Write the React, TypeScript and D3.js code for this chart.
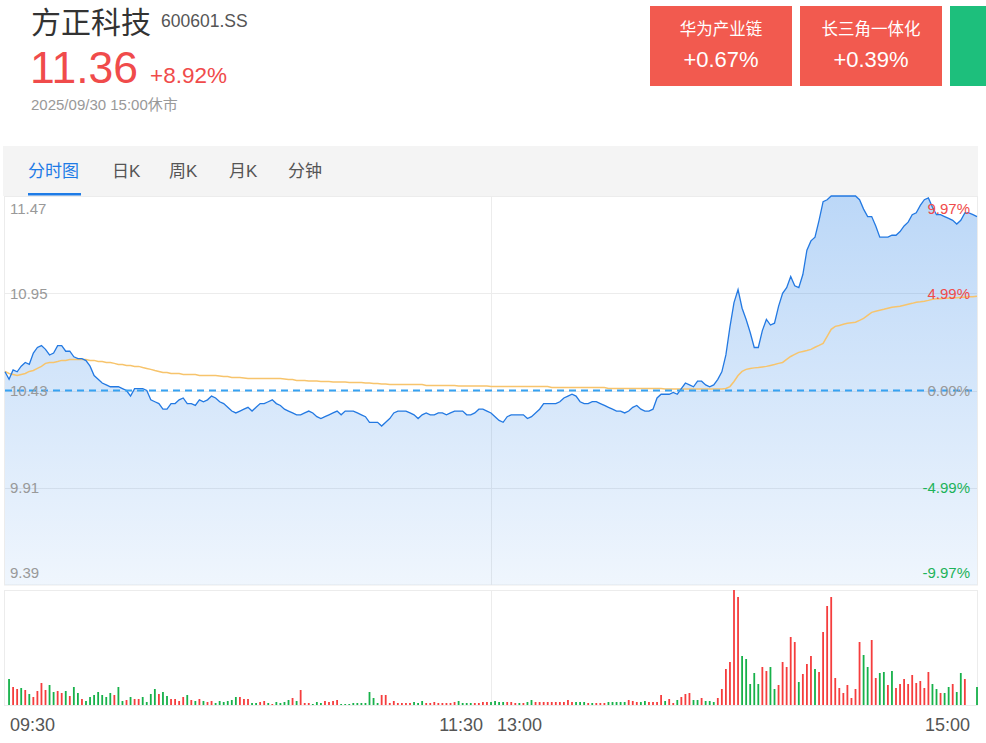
import React from "react";
import * as d3 from "d3";

const TITLE = "方正科技";
const CODE = "600601.SS";
const LAST = "11.36";
const CHANGE = "+8.92%";
const STATUS = "2025/09/30 15:00休市";
const TAG_NAMES = ["华为产业链", "长三角一体化"];
const TAG_VALUES = ["+0.67%", "+0.39%"];
const TABS = ["分时图", "日K", "周K", "月K", "分钟"];
const TAB_X = [28, 112, 169, 229, 288];

const PREV_CLOSE = 10.43;
const PRICE_TICKS = [11.47, 10.95, 10.43, 9.91, 9.39];
const PCT_TICKS = ["9.97%", "4.99%", "0.00%", "-4.99%", "-9.97%"];
const TIME_LABELS = ["09:30", "11:30", "13:00", "15:00"];
const TIME_INDEX = [0, 120, 120, 240];

// per-minute price (241 minutes)
const PRICES = [
  10.53, 10.49, 10.54, 10.53, 10.56, 10.58, 10.57, 10.63, 10.66, 10.67,
  10.65, 10.62, 10.63, 10.67, 10.67, 10.64, 10.64, 10.61, 10.60, 10.60,
  10.59, 10.56, 10.51, 10.49, 10.47, 10.46, 10.45, 10.45, 10.45, 10.44,
  10.43, 10.40, 10.44, 10.44, 10.44, 10.43, 10.38, 10.37, 10.36, 10.33,
  10.33, 10.36, 10.36, 10.38, 10.39, 10.36, 10.36, 10.35, 10.38, 10.37,
  10.38, 10.40, 10.39, 10.37, 10.36, 10.34, 10.32, 10.31, 10.32, 10.33,
  10.34, 10.32, 10.34, 10.36, 10.36, 10.37, 10.38, 10.36, 10.35, 10.33,
  10.32, 10.31, 10.30, 10.30, 10.31, 10.32, 10.31, 10.29, 10.28, 10.29,
  10.30, 10.31, 10.32, 10.30, 10.32, 10.32, 10.32, 10.31, 10.30, 10.29,
  10.26, 10.26, 10.26, 10.24, 10.26, 10.28, 10.31, 10.32, 10.32, 10.32,
  10.31, 10.30, 10.28, 10.30, 10.31, 10.30, 10.30, 10.31, 10.31, 10.30,
  10.31, 10.32, 10.32, 10.32, 10.30, 10.30, 10.31, 10.33, 10.33, 10.32,
  10.31, 10.29, 10.27, 10.26, 10.29, 10.30, 10.30, 10.30, 10.30, 10.28,
  10.29, 10.31, 10.33, 10.36, 10.36, 10.36, 10.36, 10.37, 10.39, 10.40,
  10.41, 10.40, 10.37, 10.36, 10.36, 10.37, 10.37, 10.36, 10.35, 10.34,
  10.33, 10.32, 10.32, 10.31, 10.32, 10.34, 10.35, 10.33, 10.32, 10.32,
  10.33, 10.39, 10.41, 10.41, 10.41, 10.42, 10.41, 10.44, 10.47, 10.46,
  10.45, 10.48, 10.48, 10.46, 10.45, 10.46, 10.49, 10.53, 10.62, 10.77,
  10.90, 10.97, 10.87, 10.81, 10.74, 10.66, 10.66, 10.75, 10.81, 10.78,
  10.79, 10.88, 10.95, 10.98, 11.04, 10.99, 10.98, 11.05, 11.18, 11.23,
  11.25, 11.34, 11.44, 11.45, 11.47, 11.47, 11.47, 11.47, 11.47, 11.47,
  11.47, 11.45, 11.40, 11.36, 11.36, 11.31, 11.25, 11.25, 11.25, 11.26,
  11.26, 11.28, 11.31, 11.33, 11.37, 11.38, 11.42, 11.45, 11.46, 11.41,
  11.37, 11.37, 11.36, 11.35, 11.34, 11.32, 11.34, 11.38, 11.38, 11.37,
  11.36,
];

// per-minute average price
const AVG = [
  10.532, 10.521, 10.516, 10.510, 10.516, 10.521, 10.532, 10.537, 10.548, 10.559,
  10.575, 10.580, 10.580, 10.585, 10.591, 10.591, 10.596, 10.596, 10.596, 10.596,
  10.596, 10.591, 10.591, 10.585, 10.585, 10.580, 10.580, 10.575, 10.569, 10.569,
  10.564, 10.564, 10.559, 10.559, 10.553, 10.548, 10.543, 10.537, 10.532, 10.526,
  10.526, 10.521, 10.521, 10.521, 10.516, 10.516, 10.516, 10.516, 10.510, 10.510,
  10.510, 10.510, 10.510, 10.508, 10.505, 10.505, 10.500, 10.500, 10.500, 10.497,
  10.494, 10.494, 10.494, 10.494, 10.494, 10.494, 10.494, 10.494, 10.494, 10.492,
  10.489, 10.489, 10.484, 10.484, 10.484, 10.481, 10.481, 10.481, 10.478, 10.478,
  10.478, 10.476, 10.476, 10.476, 10.476, 10.473, 10.473, 10.473, 10.473, 10.470,
  10.470, 10.468, 10.468, 10.465, 10.465, 10.462, 10.462, 10.462, 10.462, 10.462,
  10.462, 10.462, 10.462, 10.462, 10.457, 10.457, 10.457, 10.457, 10.457, 10.457,
  10.457, 10.457, 10.454, 10.454, 10.454, 10.454, 10.454, 10.454, 10.454, 10.454,
  10.451, 10.451, 10.451, 10.451, 10.451, 10.451, 10.451, 10.451, 10.451, 10.451,
  10.451, 10.451, 10.451, 10.451, 10.451, 10.446, 10.446, 10.446, 10.446, 10.446,
  10.446, 10.446, 10.446, 10.446, 10.446, 10.446, 10.446, 10.446, 10.446, 10.441,
  10.441, 10.441, 10.441, 10.441, 10.441, 10.441, 10.441, 10.441, 10.441, 10.441,
  10.441, 10.441, 10.441, 10.438, 10.438, 10.438, 10.438, 10.438, 10.438, 10.438,
  10.438, 10.438, 10.438, 10.438, 10.438, 10.438, 10.438, 10.438, 10.441, 10.451,
  10.478, 10.510, 10.532, 10.543, 10.548, 10.551, 10.553, 10.556, 10.559, 10.564,
  10.569, 10.575, 10.580, 10.596, 10.612, 10.623, 10.634, 10.639, 10.644, 10.650,
  10.661, 10.671, 10.682, 10.719, 10.757, 10.773, 10.778, 10.784, 10.789, 10.792,
  10.795, 10.805, 10.816, 10.832, 10.848, 10.854, 10.859, 10.864, 10.870, 10.875,
  10.878, 10.880, 10.886, 10.891, 10.896, 10.902, 10.904, 10.907, 10.912, 10.918,
  10.921, 10.921, 10.923, 10.923, 10.926, 10.926, 10.929, 10.929, 10.931, 10.931,
  10.934,
];

// per-minute volume (relative units)
const VOLUMES = [
  0, 26, 18, 16, 17, 15, 11, 8, 14, 22,
  15, 20, 13, 14, 12, 14, 9, 18, 12, 6,
  4, 8, 10, 13, 10, 8, 12, 10, 18, 4,
  5, 8, 6, 6, 8, 3, 11, 16, 11, 13,
  9, 6, 6, 4, 8, 10, 5, 4, 6, 4,
  3, 4, 2, 4, 3, 4, 5, 8, 8, 6,
  6, 2, 2, 3, 4, 2, 1, 3, 2, 3,
  5, 7, 4, 15, 2, 2, 1, 3, 2, 4,
  3, 4, 5, 1, 1, 1, 2, 2, 2, 2,
  13, 7, 2, 10, 10, 2, 4, 2, 2, 2,
  2, 3, 2, 4, 2, 2, 3, 2, 2, 2,
  2, 3, 4, 2, 2, 2, 2, 2, 3, 3,
  3, 4, 3, 3, 3, 3, 2, 2, 2, 3,
  5, 3, 3, 3, 3, 3, 3, 3, 3, 5,
  3, 3, 3, 3, 2, 2, 2, 2, 2, 3,
  3, 3, 3, 3, 5, 4, 3, 3, 4, 3,
  3, 3, 10, 4, 6, 2, 5, 8, 11, 12,
  5, 5, 7, 4, 4, 3, 7, 16, 36, 43,
  115, 108, 49, 46, 21, 32, 21, 38, 34, 38,
  16, 20, 43, 38, 68, 63, 23, 31, 41, 49,
  36, 33, 73, 99, 108, 27, 17, 12, 20, 7,
  16, 63, 50, 38, 65, 27, 32, 33, 20, 34,
  17, 21, 26, 21, 30, 22, 24, 17, 33, 21,
  16, 12, 12, 18, 21, 13, 32, 26, 0, 0,
  18,
];

// r = up minute, g = down minute
const DIRECTIONS = (
  "rgrrgrgrrr" + "rggrrgrggr" + "gggggggrgg" + "rgrrggggrg" + "grrrrgrgrg" +
  "rrggggggrr" + "rggrrgrggg" + "grgrrrgggr" + "rrrggggggg" + "gggrrrrrrr" +
  "rgggrrrrrr" + "rrggggrrrr" + "ggggrrrgrg" + "grrrrrrrrr" + "rgggrgrrrg" +
  "ggggrrrggr" + "rrrgrrgrrr" + "ggrgggrrrr" + "rrgggggrrg" + "grrrrrgrrr" +
  "grrrrrrrrr" + "rrggrrggrg" + "rrrrrrrrrg" + "grggrggrrrg"
).split("");

const FONT = "'Liberation Sans', Arial, 'Noto Sans CJK SC', sans-serif";
const RED = "#f04b4b";
const GREEN = "#1db35a";

export default function App() {
  const left = 5;
  const right = 977;
  const priceTop = 196;
  const priceBottom = 585;
  const volTop = 590;
  const volBottom = 705;

  const x = d3.scaleLinear().domain([0, PRICES.length - 1]).range([left, right]);
  const y = d3.scaleLinear().domain([PRICE_TICKS[4], PRICE_TICKS[0]]).range([priceBottom, priceTop]);
  const yv = d3.scaleLinear().domain([0, d3.max(VOLUMES) as number]).range([volBottom, volTop]);

  const line = d3.line<number>().x((_, i) => x(i)).y((d) => y(d));
  const area = d3.area<number>().x((_, i) => x(i)).y0(priceBottom).y1((d) => y(d));

  const labelOffset = (k: number) => (k === 0 ? 17.5 : k === PRICE_TICKS.length - 1 ? -7.5 : 5.5);
  const pctColor = (k: number) => (k < 2 ? RED : k === 2 ? "#999" : GREEN);

  return (
    <svg
      width={986}
      height={743}
      style={{ position: "absolute", left: 0, top: 0, background: "#fff" }}
      fontFamily={FONT}
    >
      <defs>
        <linearGradient id="areaGrad" x1="0" y1={priceTop} x2="0" y2={priceBottom} gradientUnits="userSpaceOnUse">
          <stop offset="0" stopColor="#1e7be6" stopOpacity={0.3} />
          <stop offset="1" stopColor="#1e7be6" stopOpacity={0.07} />
        </linearGradient>
      </defs>

      {/* header */}
      <text x={31} y={33} fontSize={30} fill="#333">{TITLE}</text>
      <text x={161} y={27} fontSize={17.5} fill="#555">{CODE}</text>
      <text x={30} y={83} fontSize={44.5} fill={RED}>{LAST}</text>
      <text x={150} y={83} fontSize={22.5} fill={RED}>{CHANGE}</text>
      <text x={31} y={110} fontSize={15} fill="#999">{STATUS}</text>

      {/* concept tags */}
      {TAG_NAMES.map((n, k) => (
        <g key={n}>
          <rect x={650 + k * 150} y={6} width={142} height={80} fill="#f25a4f" />
          <text x={721 + k * 150} y={35} fontSize={16.5} fill="#fff" textAnchor="middle">{n}</text>
          <text x={721 + k * 150} y={67} fontSize={22} fill="#fff" textAnchor="middle">{TAG_VALUES[k]}</text>
        </g>
      ))}
      <rect x={950} y={6} width={60} height={80} fill="#1dbf7c" />

      {/* tabs */}
      <rect x={3} y={146} width={975} height={50} fill="#f4f4f4" />
      {TABS.map((t, k) => (
        <text key={t} x={TAB_X[k]} y={177} fontSize={17} fill={k === 0 ? "#1e7be6" : "#555"}>{t}</text>
      ))}
      <rect x={28} y={193} width={53} height={2.5} fill="#1e7be6" />

      {/* price panel */}
      <rect x={4.5} y={196.5} width={973} height={388.5} fill="none" stroke="#ececec" />
      {[PRICE_TICKS[1], PRICE_TICKS[2], PRICE_TICKS[3]].map((v) => (
        <line key={v} x1={left} x2={right} y1={Math.round(y(v)) + 0.5} y2={Math.round(y(v)) + 0.5} stroke="#ececec" />
      ))}
      <line x1={x(120) + 0.5} x2={x(120) + 0.5} y1={priceTop} y2={priceBottom} stroke="#ececec" />

      <path d={area(PRICES) || ""} fill="url(#areaGrad)" />
      <path d={line(AVG) || ""} fill="none" stroke="#f7c46c" strokeWidth={1.5} />
      <path d={line(PRICES) || ""} fill="none" stroke="#2379e2" strokeWidth={1.3} />
      <line x1={left} x2={right} y1={y(PREV_CLOSE)} y2={y(PREV_CLOSE)} stroke="#36a2f2" strokeWidth={2} strokeDasharray="7,5" />

      {PRICE_TICKS.map((v, k) => (
        <text key={"l" + v} x={10} y={y(v) + labelOffset(k)} fontSize={15} fill="#999">{v.toFixed(2)}</text>
      ))}
      {PCT_TICKS.map((t, k) => (
        <text key={"r" + t} x={970} y={y(PRICE_TICKS[k]) + labelOffset(k)} fontSize={15} fill={pctColor(k)} textAnchor="end">{t}</text>
      ))}

      {/* volume panel */}
      <rect x={4.5} y={volTop + 0.5} width={973} height={volBottom - volTop} fill="none" stroke="#ececec" />
      <line x1={x(120) + 0.5} x2={x(120) + 0.5} y1={volTop} y2={volBottom} stroke="#ececec" />
      {VOLUMES.map((v, i) =>
        v > 0 ? (
          <rect
            key={"v" + i}
            x={x(i) - 0.9}
            y={yv(v)}
            width={1.8}
            height={volBottom - yv(v)}
            fill={DIRECTIONS[i] === "r" ? "#f53d3d" : "#17b14a"}
          />
        ) : null
      )}

      {/* time axis */}
      {TIME_LABELS.map((t, k) => {
        const anchor = k === 0 || k === 2 ? "start" : "end";
        const base = x(TIME_INDEX[k]);
        const dx = k === 0 ? 5 : k === 1 ? -8 : k === 2 ? 6 : -7;
        return (
          <text key={t} x={base + dx} y={731} fontSize={18} fill="#555" textAnchor={anchor}>{t}</text>
        );
      })}
    </svg>
  );
}
